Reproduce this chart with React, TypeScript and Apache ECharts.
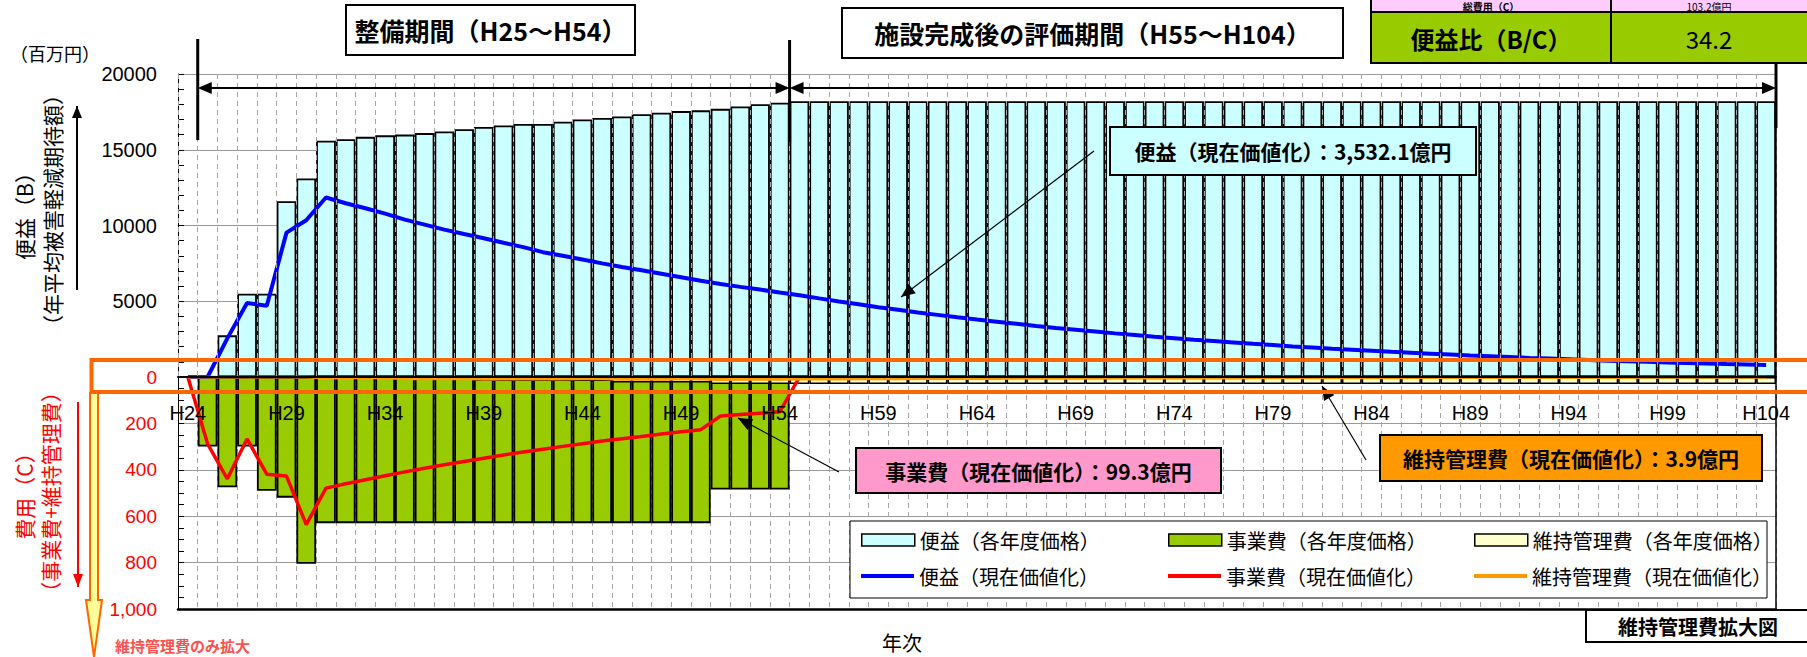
import { useEffect, useRef } from "react";
import * as echarts from "echarts";

// 年次（H24〜H104）
const years: string[] = Array.from({ length: 81 }, (_, i) => `H${24 + i}`);

// 便益（各年度価格）百万円
const benefitAnnual: (number | null)[] = [
  null, null, 2750, 5500, 5500, 11600, 13100, 15600, 15700, 15850,
  15950, 16000, 16100, 16200, 16350, 16500, 16600, 16700, 16700, 16850,
  17000, 17100, 17200, 17350, 17450, 17550, 17600, 17700, 17850, 18000,
  18100,
  18200, 18200, 18200, 18200, 18200, 18200, 18200, 18200, 18200, 18200,
  18200, 18200, 18200, 18200, 18200, 18200, 18200, 18200, 18200, 18200,
  18200, 18200, 18200, 18200, 18200, 18200, 18200, 18200, 18200, 18200,
  18200, 18200, 18200, 18200, 18200, 18200, 18200, 18200, 18200, 18200,
  18200, 18200, 18200, 18200, 18200, 18200, 18200, 18200, 18200, 18200,
];

// 便益（現在価値化）百万円
const benefitPV: number[] = [
  0, 0, 2550, 4890, 4700, 9530, 10350, 11850, 11470, 11140,
  10780, 10390, 10060, 9730, 9440, 9160, 8860, 8570, 8240, 8000,
  7760, 7500, 7260, 7040, 6810, 6580, 6350, 6140, 5950, 5770,
  5580,
  5400, 5190, 4990, 4800, 4610, 4440, 4260, 4100, 3940, 3790,
  3650, 3510, 3370, 3240, 3120, 3000, 2880, 2770, 2660, 2560,
  2460, 2370, 2280, 2190, 2110, 2020, 1950, 1870, 1800, 1730,
  1660, 1600, 1540, 1480, 1420, 1370, 1320, 1260, 1220, 1170,
  1120, 1080, 1040, 1000, 960, 920, 890, 850, 820, 790,
];

// 事業費（各年度価格）百万円
const projectCostAnnual: (number | null)[] = [
  null, 300, 475, 300, 490, 520, 805, 630, 630, 630,
  630, 630, 630, 630, 630, 630, 630, 630, 630, 630,
  630, 630, 630, 630, 630, 630, 630, 485, 485, 485,
  485,
];

// 事業費（現在価値化）百万円
const projectCostPV: (number | null)[] = [
  0, 288, 439, 267, 419, 427, 636, 479, 460, 443,
  426, 409, 393, 378, 364, 350, 336, 323, 311, 299,
  288, 276, 266, 256, 246, 236, 227, 168, 162, 156,
  150, 0,
];

// 維持管理費（各年度価格）拡大表示
const maintenanceAnnual: (number | null)[] = [
  null, null, null, null, null, null, null, 5, 5, 5,
  5, 12, 12, 12, 12, 17, 17, 17, 17, 17,
  17, 17, 24, 24, 24, 24, 24, 30, 30, 30,
  30,
  30, 30, 30, 30, 30, 30, 30, 30, 30, 30,
  30, 30, 30, 30, 30, 30, 30, 30, 30, 30,
  30, 30, 30, 30, 30, 30, 30, 30, 30, 30,
  30, 30, 30, 30, 30, 30, 30, 30, 30, 30,
  30, 30, 30, 30, 30, 30, 30, 30, 30, 30,
];

// 維持管理費（現在価値化）拡大表示
const maintenancePV: number[] = [
  0, 0, 0, 0, 0, 0, 0, 3.8, 3.7, 3.5,
  3.4, 7.8, 7.5, 7.2, 6.9, 9.4, 9.1, 8.7, 8.4, 8.1,
  7.8, 7.5, 10.1, 9.7, 9.4, 9.0, 8.7, 10.4, 10.0, 9.6,
  9.2,
  8.9, 8.6, 8.2, 7.9, 7.6, 7.3, 7.0, 6.8, 6.5, 6.2,
  6.0, 5.8, 5.6, 5.3, 5.1, 4.9, 4.7, 4.6, 4.4, 4.2,
  4.1, 3.9, 3.8, 3.6, 3.5, 3.3, 3.2, 3.1, 3.0, 2.9,
  2.7, 2.6, 2.5, 2.4, 2.3, 2.3, 2.2, 2.1, 2.0, 1.9,
  1.8, 1.8, 1.7, 1.6, 1.6, 1.5, 1.4, 1.4, 1.3, 1.3,
];

const SERIES_NAMES = {
  benefitBar: "便益（各年度価格）",
  costBar: "事業費（各年度価格）",
  maintBar: "維持管理費（各年度価格）",
  benefitLine: "便益（現在価値化）",
  costLine: "事業費（現在価値化）",
  maintLine: "維持管理費（現在価値化）",
};

const COLORS = {
  benefitBar: "#CCFFFF",
  costBar: "#99CC00",
  maintBar: "#FFFFCC",
  benefitLine: "#0000FF",
  costLine: "#FF0000",
  maintLine: "#FF9900",
};

const JP = "'Noto Sans CJK JP', sans-serif";
const NARROW = "'Liberation Sans Narrow', 'Liberation Sans', sans-serif";
const SANS = "'Liberation Sans', Arial, sans-serif";

// plot geometry (px)
const PLOT_L = 178;
const PLOT_R = 1776;
const TOP = 74;
const ZERO = 377;
const BOTTOM = 609;
const CAT_W = (PLOT_R - PLOT_L) / years.length;
const boundary = (i: number) => PLOT_L + i * CAT_W;

function arrowHead(fx: number, fy: number, tx: number, ty: number, len: number, hw: number) {
  const dx = tx - fx;
  const dy = ty - fy;
  const d = Math.hypot(dx, dy) || 1;
  const ux = dx / d;
  const uy = dy / d;
  const bx = tx - ux * len;
  const by = ty - uy * len;
  return [
    [tx, ty],
    [bx - uy * hw, by + ux * hw],
    [bx + uy * hw, by - ux * hw],
  ];
}

function arrow(fx: number, fy: number, tx: number, ty: number, color: string, width: number, len: number, hw: number, z = 100) {
  return [
    { type: "line", z, shape: { x1: fx, y1: fy, x2: tx, y2: ty }, style: { stroke: color, lineWidth: width } },
    { type: "polygon", z, shape: { points: arrowHead(fx, fy, tx, ty, len, hw) }, style: { fill: color } },
  ];
}

function doubleArrow(x1: number, x2: number, y: number) {
  return [
    { type: "line", z: 100, shape: { x1: x1 + 6, y1: y, x2: x2 - 6, y2: y }, style: { stroke: "#000", lineWidth: 2 } },
    { type: "polygon", z: 100, shape: { points: arrowHead(x2 - 20, y, x1, y, 14, 6) }, style: { fill: "#000" } },
    { type: "polygon", z: 100, shape: { points: arrowHead(x1 + 20, y, x2, y, 14, 6) }, style: { fill: "#000" } },
  ];
}

function textEl(text: string, x: number, y: number, opts: any = {}, z = 101) {
  return {
    type: "text",
    z,
    x,
    y,
    rotation: opts.rotation || 0,
    style: {
      text,
      fontSize: opts.fontSize || 20,
      fontFamily: opts.fontFamily || JP,
      fontWeight: opts.fontWeight || "normal",
      fill: opts.fill || "#000",
      align: opts.align || "center",
      verticalAlign: opts.verticalAlign || "middle",
    },
  };
}

function boxEl(x: number, y: number, w: number, h: number, fill: string, lineWidth = 2, z = 100) {
  return { type: "rect", z, shape: { x, y, width: w, height: h }, style: { fill, stroke: "#000", lineWidth } };
}

export default function App() {
  const ref = useRef<HTMLDivElement>(null);

  useEffect(() => {
    if (!ref.current) return;
    const chart = echarts.init(ref.current, undefined, { renderer: "svg" });

    const vSplit = { show: true, interval: 0, lineStyle: { color: "#A6A6A6", width: 1, type: [5, 4] } };

    const legendItems = [
      { key: "benefitBar", left: 861, top: 530, bar: true },
      { key: "costBar", left: 1168, top: 530, bar: true },
      { key: "maintBar", left: 1474, top: 530, bar: true },
      { key: "benefitLine", left: 861, top: 566, bar: false },
      { key: "costLine", left: 1168, top: 566, bar: false },
      { key: "maintLine", left: 1474, top: 566, bar: false },
    ] as const;

    const legendText = { fontSize: 20, fontFamily: JP, color: "#000" };

    const elements: any[] = [
      // period title boxes
      boxEl(346, 5, 289, 50, "#fff"),
      textEl("整備期間（H25～H54）", 490.5, 30, { fontSize: 25, fontWeight: "bold" }),
      boxEl(842, 8, 501, 50, "#fff"),
      textEl("施設完成後の評価期間（H55～H104）", 1092.5, 33, { fontSize: 25, fontWeight: "bold" }),

      // B/C table
      boxEl(1371, -10, 240, 22, "#FFCCFF"),
      boxEl(1611, -10, 210, 22, "#FFCCFF"),
      boxEl(1371, 12, 240, 51, "#99CC00"),
      boxEl(1611, 12, 210, 51, "#99CC00"),
      textEl("総費用（C）", 1491, 6.5, { fontSize: 10, fontWeight: "bold" }),
      textEl("103.2億円", 1709, 6.5, { fontSize: 10 }),
      textEl("便益比（B/C）", 1491, 38, { fontSize: 24, fontWeight: "bold" }),
      textEl("34.2", 1709, 38, { fontSize: 24 }),

      // period markers
      { type: "line", z: 100, shape: { x1: boundary(1), y1: 39, x2: boundary(1), y2: 140 }, style: { stroke: "#000", lineWidth: 3 } },
      { type: "line", z: 100, shape: { x1: boundary(31), y1: 40, x2: boundary(31), y2: 142 }, style: { stroke: "#000", lineWidth: 3 } },
      { type: "line", z: 100, shape: { x1: PLOT_R, y1: 63, x2: PLOT_R, y2: 128 }, style: { stroke: "#000", lineWidth: 3 } },
      ...doubleArrow(boundary(1), boundary(31), 88),
      ...doubleArrow(boundary(31), PLOT_R, 88),

      // plot right border
      { type: "line", z: 90, shape: { x1: PLOT_R, y1: TOP, x2: PLOT_R, y2: BOTTOM }, style: { stroke: "#000", lineWidth: 1.5 } },

      // callouts
      ...arrow(1094, 151, 901, 297, "#000", 1.2, 14, 6),
      boxEl(1110, 127, 366, 48, "#CCFFFF"),
      textEl("便益（現在価値化）：3,532.1億円", 1293, 151, { fontSize: 21, fontWeight: "bold" }),

      ...arrow(839, 472, 738, 418, "#000", 1.2, 14, 6),
      boxEl(856, 448, 365, 45, "#FF99CC"),
      textEl("事業費（現在価値化）：99.3億円", 1038.5, 470.5, { fontSize: 21, fontWeight: "bold" }),

      ...arrow(1366, 460, 1322, 386, "#000", 1.2, 14, 6),
      boxEl(1380, 435, 382, 46, "#FF9900"),
      textEl("維持管理費（現在価値化）：3.9億円", 1571, 458, { fontSize: 21, fontWeight: "bold" }),

      // enlarged maintenance band and its pointer
      {
        type: "polygon",
        z: 99,
        shape: { points: [[90, 393], [98, 393], [98, 600], [102, 600], [94, 657], [86, 600], [90, 600]] },
        style: { fill: "#FFFF99", stroke: "#FF6600", lineWidth: 2 },
      },
      { type: "rect", z: 100, shape: { x: 91.5, y: 360, width: 1760, height: 32 }, style: { fill: "none", stroke: "#FF6600", lineWidth: 4 } },
      textEl("維持管理費のみ拡大", 115, 645, { fontSize: 15, fontWeight: "bold", fill: "#FF5050", align: "left" }),

      // axis direction arrows
      ...arrow(77, 290, 77, 106, "#000", 2, 12, 5),
      ...arrow(78, 402, 78, 587, "#FF0000", 2, 13, 5),

      // axis titles
      textEl("（百万円）", 55, 53, { fontSize: 18 }),
      textEl("便益（B）", 23.5, 211, { fontSize: 21, rotation: Math.PI / 2 }),
      textEl("（年平均被害軽減期待額）", 52, 210, { fontSize: 21, rotation: Math.PI / 2 }),
      textEl("費用（C）", 23.5, 491, { fontSize: 21, rotation: Math.PI / 2, fill: "#FF0000" }),
      textEl("（事業費+維持管理費）", 50, 492, { fontSize: 21, rotation: Math.PI / 2, fill: "#FF0000" }),
      textEl("年次", 902, 642, { fontSize: 20 }),

      // inset caption
      boxEl(1586, 610, 230, 32, "#fff"),
      textEl("維持管理費拡大図", 1698, 626, { fontSize: 20, fontWeight: "bold" }),

      // legend frame
      { type: "rect", z: 50, shape: { x: 850, y: 521, width: 917, height: 77 }, style: { fill: "#fff", stroke: "#000", lineWidth: 1 } },
    ];

    const option: any = {
      animation: false,
      backgroundColor: "#fff",
      grid: [
        { left: PLOT_L, top: TOP, width: PLOT_R - PLOT_L, height: ZERO - TOP },
        { left: PLOT_L, top: ZERO, width: PLOT_R - PLOT_L, height: BOTTOM - ZERO },
      ],
      xAxis: [
        {
          type: "category",
          gridIndex: 0,
          data: years,
          position: "bottom",
          axisLine: { onZero: false, lineStyle: { color: "#000", width: 2 } },
          axisTick: { show: false },
          axisLabel: { interval: 4, margin: 26, fontSize: 20, color: "#000", fontFamily: NARROW },
          splitLine: vSplit,
          z: 10,
        },
        {
          type: "category",
          gridIndex: 1,
          data: years,
          position: "bottom",
          axisLine: { onZero: false, lineStyle: { color: "#000", width: 2.5 } },
          axisTick: { show: false },
          axisLabel: { show: false },
          splitLine: vSplit,
        },
      ],
      yAxis: [
        {
          type: "value",
          gridIndex: 0,
          min: 0,
          max: 20000,
          interval: 5000,
          axisLine: { show: true, lineStyle: { color: "#000", width: 1 } },
          axisTick: { show: true, inside: true, length: 6, lineStyle: { color: "#000" } },
          minorTick: { show: true, splitNumber: 5, length: 6, lineStyle: { color: "#000" } },
          axisLabel: {
            showMinLabel: false,
            fontSize: 20,
            color: "#000",
            margin: 21,
            fontFamily: SANS,
            padding: [7, 0, 0, 0],
            formatter: (v: number) => String(v),
          },
          splitLine: { show: true, lineStyle: { color: "#9A9A9A", width: 1 } },
        },
        {
          type: "value",
          gridIndex: 1,
          min: 0,
          max: 1000,
          interval: 200,
          inverse: true,
          axisLine: { show: true, lineStyle: { color: "#000", width: 1 } },
          axisTick: { show: true, inside: true, length: 6, lineStyle: { color: "#000" } },
          minorTick: { show: true, splitNumber: 4, length: 6, lineStyle: { color: "#000" } },
          axisLabel: {
            fontSize: 19,
            color: "#FF0000",
            margin: 21,
            fontFamily: SANS,
            padding: [6, 0, 0, 0],
            formatter: (v: number) => (v === 1000 ? "1,000" : String(v)),
          },
          splitLine: { show: true, lineStyle: { color: "#9A9A9A", width: 1 } },
        },
      ],
      legend: legendItems.map((it) => ({
        data: [{ name: SERIES_NAMES[it.key], textStyle: legendText }],
        left: it.left,
        top: it.top,
        padding: 0,
        itemWidth: 53,
        itemHeight: it.bar ? 12 : 4,
        selectedMode: false,
        z: 60,
        icon: "rect",
        itemStyle: it.bar
          ? { color: COLORS[it.key], borderColor: "#000", borderWidth: 1.5 }
          : { color: COLORS[it.key], borderWidth: 0 },
        textStyle: legendText,
      })),
      series: [
        {
          name: SERIES_NAMES.benefitBar,
          type: "bar",
          xAxisIndex: 0,
          yAxisIndex: 0,
          data: benefitAnnual,
          barCategoryGap: "0%",
          itemStyle: { color: COLORS.benefitBar, borderColor: "#000", borderWidth: 1.8 },
        },
        {
          name: SERIES_NAMES.costBar,
          type: "bar",
          xAxisIndex: 1,
          yAxisIndex: 1,
          data: projectCostAnnual,
          barCategoryGap: "0%",
          barGap: "-100%",
          itemStyle: { color: COLORS.costBar, borderColor: "#000", borderWidth: 1.8 },
        },
        {
          name: SERIES_NAMES.maintBar,
          type: "bar",
          xAxisIndex: 1,
          yAxisIndex: 1,
          data: maintenanceAnnual,
          barCategoryGap: "0%",
          barGap: "-100%",
          itemStyle: { color: COLORS.maintBar, borderColor: "#000", borderWidth: 1.5 },
        },
        {
          name: SERIES_NAMES.benefitLine,
          type: "line",
          xAxisIndex: 0,
          yAxisIndex: 0,
          data: benefitPV,
          symbol: "none",
          lineStyle: { color: COLORS.benefitLine, width: 4 },
          itemStyle: { color: COLORS.benefitLine },
          z: 5,
        },
        {
          name: SERIES_NAMES.costLine,
          type: "line",
          xAxisIndex: 1,
          yAxisIndex: 1,
          data: projectCostPV,
          symbol: "none",
          lineStyle: { color: COLORS.costLine, width: 3.5 },
          itemStyle: { color: COLORS.costLine },
          z: 5,
        },
        {
          name: SERIES_NAMES.maintLine,
          type: "line",
          xAxisIndex: 1,
          yAxisIndex: 1,
          data: maintenancePV,
          symbol: "none",
          lineStyle: { color: COLORS.maintLine, width: 3 },
          itemStyle: { color: COLORS.maintLine },
          z: 6,
        },
      ],
      graphic: { elements },
    };

    chart.setOption(option);
    return () => chart.dispose();
  }, []);

  return (
    <div
      ref={ref}
      style={{ position: "absolute", left: 0, top: 0, width: 1807, height: 657, background: "#fff" }}
    />
  );
}
